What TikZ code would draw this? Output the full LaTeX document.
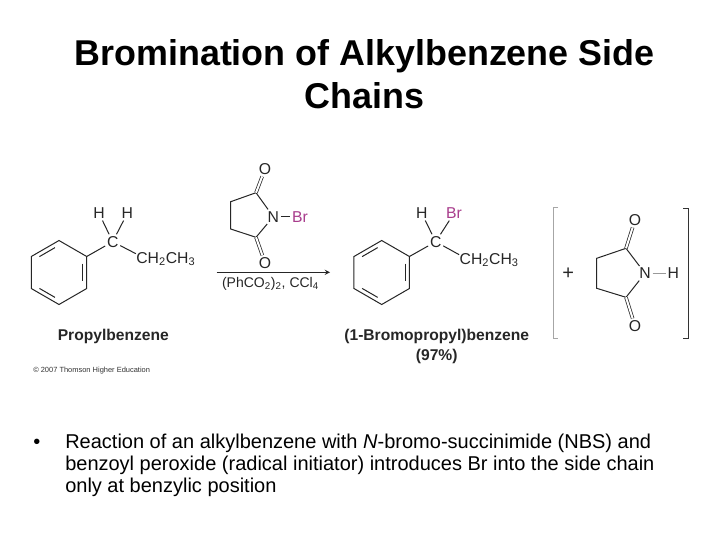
\documentclass[tikz,border=0pt]{standalone}
\usepackage{fontspec}
\setmainfont{Liberation Sans}
\usepackage{xcolor}
\usepackage{tikz}
\usetikzlibrary{
    arrows.meta,
    positioning,
    calc,
}

\definecolor{brpink}{HTML}{A83C8C}

% hexagon with three inner bonds
\newcommand{\benzring}[3]{
    \foreach \k/\a in {1/-90, 2/-30, 3/30, 4/90, 5/150, 6/-150} {
        \coordinate (#1\k) at ($(#2,#3)+(\a:32)$);
    }
    \coordinate (#1c) at (#2,#3);
    \draw[bond] (#11) -- (#12) -- (#13) -- (#14) -- (#15) -- (#16) -- cycle;
    \foreach \p/\q in {1/6, 2/3, 4/5} {
        \draw[bond] ($(#1\p)!0.17!(#1\q)!0.15!(#1c)$) -- ($(#1\q)!0.17!(#1\p)!0.15!(#1c)$);
    }
}

\begin{document}
\begin{tikzpicture}[
        x=0.75pt, y=-0.75pt,
        >=stealth,
        bond/.style={line width=0.75pt, black!85},
        dbond/.style={line width=0.55pt, black!85, double, double distance=1.5pt},
        atom/.style={font=\fontsize{11.8}{13}\selectfont, inner sep=1.2pt, text=black!85},
        caption/.style={font=\fontsize{11.7}{15}\selectfont\bfseries, align=center, text=black!85},
        title/.style={font=\fontsize{26.9}{32}\selectfont\bfseries, align=center},
        bullet/.style={font=\fontsize{15}{16.5}\selectfont, anchor=north west, align=left},
    ]
    \useasboundingbox[fill=white] (0,0) rectangle (720,540);

    % ── Title ──
    \node[title] (heading) at (364.5,74) {Bromination of Alkylbenzene Side\\Chains};

    % ── Propylbenzene ──
    \benzring{pa}{59}{272.5}
    \node[atom] (ca) at (112.7,241.7) {C};
    \node[atom] (ha) at (99,213.3) {H};
    \node[atom] (hb) at (127.3,213.3) {H};
    \node[atom, anchor=west] (ea) at (134.5,259) {CH\textsubscript{2}CH\textsubscript{3}};
    \draw[bond] (pa2) -- (ca);
    \draw[bond] (ca) -- (ha);
    \draw[bond] (ca) -- (hb);
    \draw[bond] (ca) -- ([xshift=1pt,yshift=4pt]ea.west);
    \node[caption] (namea) at (113.3,336) {Propylbenzene};

    % ── NBS over the arrow ──
    \node[atom] (oa) at (265,169) {O};
    \coordinate (na1) at (256,192.7);
    \coordinate (na2) at (230.7,201.7);
    \coordinate (na3) at (230.7,229);
    \coordinate (na4) at (256,237.3);
    \node[atom] (na) at (273.3,216.7) {N};
    \node[atom, text=brpink] (bra) at (300,216.7) {Br};
    \node[atom] (ob) at (265,262.7) {O};
    \draw[bond] (na) -- (na1) -- (na2) -- (na3) -- (na4) -- (na);
    \draw[dbond] (na1) -- (oa);
    \draw[dbond] (na4) -- (ob);
    \draw[bond] (na) -- (bra);

    % ── Arrow ──
    \coordinate (arrowa) at (216.7,272.3);
    \coordinate (arrowb) at (330,272.3);
    \draw[->, bond] (arrowa) -- (arrowb);
    \node[atom, font=\fontsize{10.5}{12}\selectfont] (reagent) at (270.5,283.5) {(PhCO\textsubscript{2})\textsubscript{2}, CCl\textsubscript{4}};

    % ── Product ──
    \benzring{pb}{381.7}{272.5}
    \node[atom] (cb) at (435.7,241.7) {C};
    \node[atom] (hc) at (421.7,213.3) {H};
    \node[atom, text=brpink] (brb) at (454,213.3) {Br};
    \node[atom, anchor=west] (eb) at (457.8,260) {CH\textsubscript{2}CH\textsubscript{3}};
    \draw[bond] (pb2) -- (cb);
    \draw[bond] (cb) -- (hc);
    \draw[bond] (cb) -- (brb);
    \draw[bond] (cb) -- ([xshift=1pt,yshift=4pt]eb.west);
    \node[caption] (nameb) at (436.7,346) {(1-Bromopropyl)benzene\\(97\%)};

    % ── Brackets ──
    \coordinate (la) at (558,207.3);
    \coordinate (lb) at (553.3,207.3);
    \coordinate (lc) at (553.3,338.3);
    \coordinate (ld) at (558,338.3);
    \coordinate (ra) at (683.3,208.3);
    \coordinate (rb) at (688.3,208.3);
    \coordinate (rc) at (688.3,338.3);
    \coordinate (rd) at (683.3,338.3);
    \draw[line width=0.9pt, black!35] (la) -- (lb) -- (lc) -- (ld);
    \draw[line width=0.9pt, black!80] (ra) -- (rb) -- (rc) -- (rd);
    \node[atom, font=\fontsize{15}{16}\selectfont] (plus) at (568.3,273.3) {+};

    % ── Succinimide ──
    \node[atom] (oc) at (635,220) {O};
    \coordinate (nb1) at (626,248.3);
    \coordinate (nb2) at (596.7,258.3);
    \coordinate (nb3) at (596.7,288.3);
    \coordinate (nb4) at (626,297.3);
    \node[atom] (nb) at (645,273.3) {N};
    \node[atom] (hd) at (673.3,273.3) {H};
    \node[atom] (od) at (635,326) {O};
    \draw[bond] (nb) -- (nb1) -- (nb2) -- (nb3) -- (nb4) -- (nb);
    \draw[dbond] (nb1) -- (oc);
    \draw[dbond] (nb4) -- (od);
    \draw[line width=0.75pt, black!40] (nb) -- (hd);

    % ── Credit line ──
    \node[font=\fontsize{5.6}{6}\selectfont, anchor=west, inner sep=0pt, text=black!80] (credit) at (33,371) {© 2007 Thomson Higher Education};

    % ── Bullet ──
    \node[font=\fontsize{15}{16.5}\selectfont, anchor=base west, inner sep=0pt] (dot) at (33,448) {•};
    \node[bullet, inner sep=0pt] (body) at (65,434) {Reaction of an alkylbenzene with \textit{N}-bromo-succinimide (NBS) and\\benzoyl peroxide (radical initiator) introduces Br into the side chain\\only at benzylic position};

\end{tikzpicture}
\end{document}
